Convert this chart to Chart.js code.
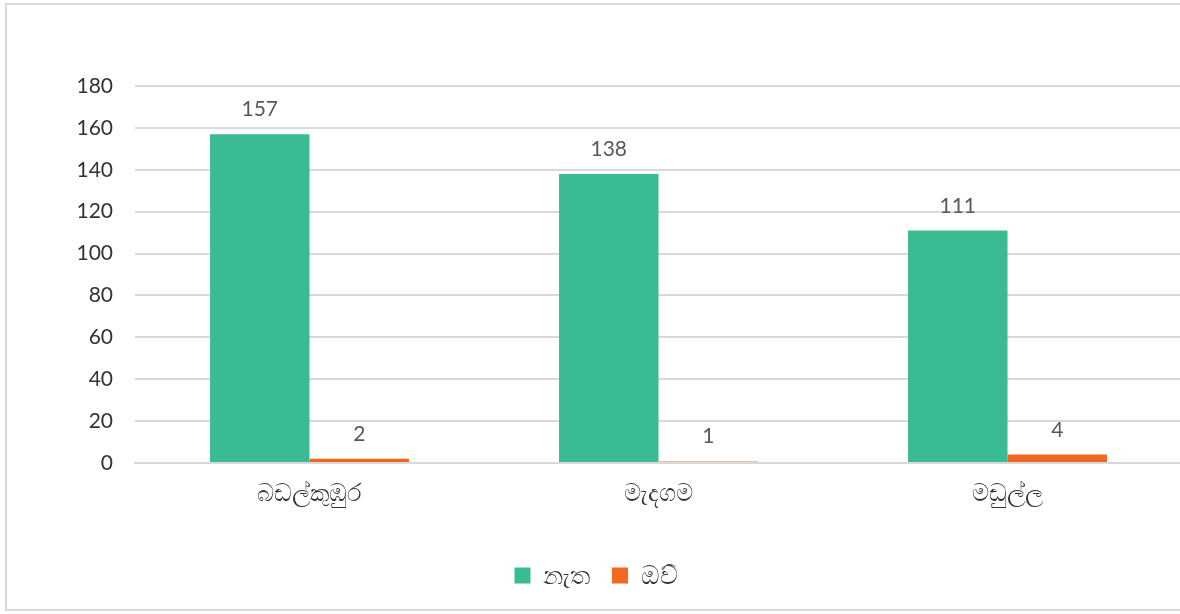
<!DOCTYPE html>
<html>
<head>
<meta charset="utf-8">
<script src="https://cdn.jsdelivr.net/npm/chart.js@4"></script>
<style>
  html, body { margin: 0; padding: 0; background: #fff; overflow: hidden; }
  #wrap { position: relative; width: 1190px; height: 614px; }
  #frame { position: absolute; left: 5px; top: 3px; width: 1200px; height: 608px;
           border: 2px solid #d9d9d9; box-sizing: border-box; pointer-events: none; }
  canvas { position: absolute; left: 0; top: 0; }
</style>
</head>
<body>
<div id="wrap">
  <canvas id="c" width="1190" height="614"></canvas>
  <div id="frame"></div>
</div>
<script>
const categories = ['බඩල්කුඹුර', 'මැදගම', 'මඩුල්ල'];
const seriesNames = ['නැත', 'ඔව්'];
const noValues = [157, 138, 111];
const yesValues = [2, 1, 4];
const yTicks = [0, 20, 40, 60, 80, 100, 120, 140, 160, 180];

const green = '#3BBB94';
const orange = '#F26722';

// draws the value above each bar
const valueLabels = {
    id: 'valueLabels',
    afterDatasetsDraw(chart) {
        const ctx = chart.ctx;
        ctx.save();
        ctx.font = '21px Lato';
        ctx.fillStyle = '#595959';
        ctx.textAlign = 'center';
        ctx.textBaseline = 'bottom';
        chart.data.datasets.forEach((ds, i) => {
            chart.getDatasetMeta(i).data.forEach((bar, j) => {
                ctx.fillText(ds.data[j], bar.x, bar.y - 14);
            });
        });
        ctx.restore();
    }
};

const ctx = document.getElementById('c').getContext('2d');
new Chart(ctx, {
    type: 'bar',
    data: {
        labels: categories,
        datasets: [{
            label: seriesNames[0],
            data: noValues,
            backgroundColor: green,
            borderWidth: 0
        }, {
            label: seriesNames[1],
            data: yesValues,
            backgroundColor: [orange, '#FBBE9C', orange],
            borderWidth: 0
        }]
    },
    options: {
        responsive: false,
        animation: false,
        datasets: { bar: { categoryPercentage: 0.57, barPercentage: 1.0 } },
        layout: { padding: { left: 10, right: 8, top: 86, bottom: 16 } },
        plugins: {
            legend: {
                position: 'bottom',
                labels: {
                    boxWidth: 16,
                    boxHeight: 16,
                    padding: 22,
                    color: '#333',
                    font: { size: 25, family: 'Lato' },
                    generateLabels(chart) {
                        return chart.data.datasets.map((ds, i) => ({
                            text: ds.label,
                            fillStyle: i === 0 ? green : orange,
                            strokeStyle: 'transparent',
                            lineWidth: 0,
                            datasetIndex: i,
                            fontColor: '#333'
                        }));
                    }
                }
            },
            tooltip: { enabled: false }
        },
        scales: {
            x: {
                grid: { display: false },
                border: { color: '#d9d9d9', width: 2 },
                ticks: { color: '#333', font: { size: 24, family: 'Lato' }, padding: 8 },
                afterFit(scale) { scale.height = 78; }
            },
            y: {
                min: 0,
                max: 180,
                afterBuildTicks(scale) { scale.ticks = yTicks.map(v => ({ value: v })); },
                grid: { color: '#d9d9d9', lineWidth: 2, drawTicks: false },
                border: { display: false },
                ticks: { color: '#333', font: { size: 21, family: 'Lato' }, padding: 22 },
                afterFit(scale) { scale.width = 125; }
            }
        }
    },
    plugins: [valueLabels]
});
</script>
</body>
</html>
